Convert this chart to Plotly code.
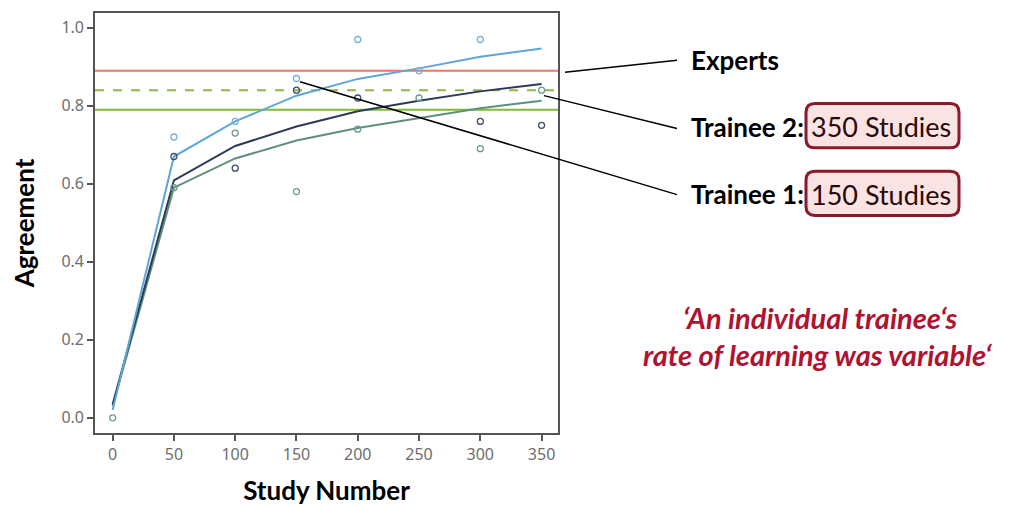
import plotly.graph_objects as go

# ---- data ----
study_x = [0, 50, 100, 150, 200, 250, 300, 350]
blue_curve = [0.02, 0.67, 0.76, 0.826, 0.869, 0.896, 0.926, 0.947]
dark_curve = [0.035, 0.609, 0.697, 0.747, 0.786, 0.813, 0.837, 0.856]
green_curve = [0.03, 0.590, 0.665, 0.711, 0.743, 0.768, 0.794, 0.813]

blue_pts_x = [50, 100, 150, 200, 250, 300]
blue_pts_y = [0.72, 0.76, 0.87, 0.97, 0.89, 0.97]
dark_pts_x = [50, 100, 150, 200, 300, 350]
dark_pts_y = [0.67, 0.64, 0.84, 0.82, 0.76, 0.75]
green_pts_x = [0, 50, 100, 150, 200, 250, 300, 350]
green_pts_y = [0.0, 0.59, 0.73, 0.58, 0.74, 0.82, 0.69, 0.84]

experts_level = 0.89
trainee2_level = 0.84
trainee1_level = 0.79

x_ticks = [0, 50, 100, 150, 200, 250, 300, 350]
y_ticks = [0.0, 0.2, 0.4, 0.6, 0.8, 1.0]

# ---- layout geometry (pixels in the screenshot; page body adds an 8px offset) ----
OFF = 8
W, H = 1022 - OFF, 506 - OFF
L, R, T, B = 95 - OFF, 558 - OFF, 11 - OFF, 433 - OFF


def px(x):
    return (x - OFF - L) / (R - L)


def py(y):
    return (B - (y - OFF)) / (B - T)


BLUE = "#5ea6d8"
DARK = "#2c3a58"
GREEN = "#5f9079"

fig = go.Figure()

# reference horizontal lines
for lvl, col, dash in [(experts_level, "#f07565", "solid"),
                       (trainee2_level, "#93b545", "dash"),
                       (trainee1_level, "#80bb35", "solid")]:
    fig.add_trace(go.Scatter(x=[-14.4, 363.4], y=[lvl, lvl], mode="lines",
                             line=dict(color=col, width=2, dash=dash),
                             hoverinfo="skip", showlegend=False))

for cx, cy, col in [(study_x, green_curve, GREEN), (study_x, dark_curve, DARK), (study_x, blue_curve, BLUE)]:
    fig.add_trace(go.Scatter(x=cx, y=cy, mode="lines", line=dict(color=col, width=2),
                             showlegend=False))

for sx, sy, col in [(green_pts_x, green_pts_y, "#6c9c8c"), (dark_pts_x, dark_pts_y, "#3e4e6c"), (blue_pts_x, blue_pts_y, "#78b0d8")]:
    fig.add_trace(go.Scatter(x=sx, y=sy, mode="markers",
                             marker=dict(symbol="circle-open", size=6, color=col, line=dict(width=1.3, color=col)),
                             showlegend=False))

axis_common = dict(showline=True, linecolor="#555555", linewidth=1.6, mirror=True,
                   ticks="outside", ticklen=6, tickwidth=1.6, tickcolor="#555555",
                   showgrid=False, zeroline=False,
                   tickfont=dict(family="Noto Sans", size=16, color="#6e6e6e"))

fig.update_xaxes(range=[-14.4, 363.4], tickvals=x_ticks, **axis_common,
                 title=dict(text="<b>Study Number</b>", font=dict(family="Lato", size=26, color="#000000"), standoff=18))
fig.update_yaxes(range=[-0.039, 1.038], tickvals=y_ticks, tickformat=".1f", **axis_common,
                 title=dict(text="<b>Agreement</b>", font=dict(family="Lato", size=26, color="#000000"), standoff=24))

shapes = []
# pointer lines
for (x0, y0, x1, y1) in [(565, 70.5, 677, 58.5), (544, 94, 677, 127), (300, 80, 677, 193.5)]:
    shapes.append(dict(type="line", xref="paper", yref="paper", x0=px(x0), y0=py(y0), x1=px(x1), y1=py(y1),
                       line=dict(color="#000000", width=1.5)))


def rrect(x0, y0, x1, y1, r):
    pts = [
        f"M {px(x0 + r)},{py(y0)}",
        f"L {px(x1 - r)},{py(y0)}",
        f"Q {px(x1)},{py(y0)} {px(x1)},{py(y0 + r)}",
        f"L {px(x1)},{py(y1 - r)}",
        f"Q {px(x1)},{py(y1)} {px(x1 - r)},{py(y1)}",
        f"L {px(x0 + r)},{py(y1)}",
        f"Q {px(x0)},{py(y1)} {px(x0)},{py(y1 - r)}",
        f"L {px(x0)},{py(y0 + r)}",
        f"Q {px(x0)},{py(y0)} {px(x0 + r)},{py(y0)}",
        "Z",
    ]
    return " ".join(pts)


for (y0, y1) in [(102, 146.5), (170, 214.5)]:
    shapes.append(dict(type="path", xref="paper", yref="paper", path=rrect(806, y0, 959, y1, 9),
                       fillcolor="#fae3e3", line=dict(color="#8a1a2a", width=3)))

fig.update_layout(shapes=shapes)

ann_font = dict(family="Lato", size=26, color="#000000")
box_font = dict(family="Lato", size=27, color="#2a0808")
quote_font = dict(family="Lato", size=29, color="#b01230")
annotations = [
    dict(text="<b>Experts</b>", x=px(689), y=py(58), xanchor="left", yanchor="middle", font=ann_font),
    dict(text="<b>Trainee 2:</b>", x=px(689), y=py(126), xanchor="left", yanchor="middle", font=ann_font),
    dict(text="<b>Trainee 1:</b>", x=px(689), y=py(193), xanchor="left", yanchor="middle", font=ann_font),
    dict(text="350 Studies", x=px(881), y=py(125), xanchor="center", yanchor="middle", font=box_font),
    dict(text="150 Studies", x=px(881), y=py(193), xanchor="center", yanchor="middle", font=box_font),
    dict(text="<b><i>‘An individual trainee‘s</i></b>", x=px(820), y=py(317), xanchor="center", yanchor="middle",
         font=quote_font),
    dict(text="<b><i>rate of learning was variable‘</i></b>", x=px(817), y=py(354), xanchor="center", yanchor="middle",
         font=quote_font),
]
for a in annotations:
    a.update(xref="paper", yref="paper", showarrow=False)
fig.update_layout(annotations=annotations)

fig.update_layout(width=W, height=H, margin=dict(l=L, r=W - R, t=T, b=H - B),
                  paper_bgcolor="#ffffff", plot_bgcolor="#ffffff", showlegend=False)

fig.write_html("out.html")
